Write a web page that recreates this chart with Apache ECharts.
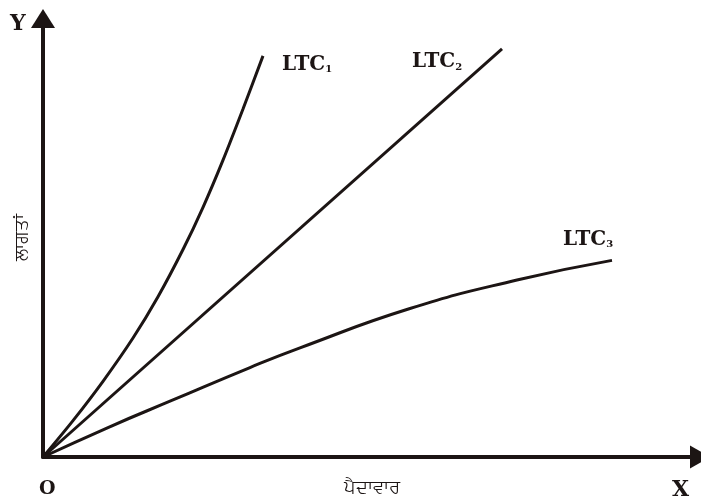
<!DOCTYPE html>
<html>
<head>
<meta charset="utf-8">
<script src="https://cdn.jsdelivr.net/npm/echarts@6/dist/echarts.min.js"></script>
<style>
html, body { margin: 0; padding: 0; background: #fff; }
#main { width: 701px; height: 502px; }
</style>
</head>
<body>
<div id="main"></div>
<script>
// curve data (x = output, y = cost)
var ltc1 = [[0, 0], [30, 37], [60, 77], [90, 121], [115, 163], [140, 211], [160, 254], [180, 302], [200, 354], [220, 408]];
var ltc2 = [[0, 0], [459, 415]];
var ltc3 = [[0, 0], [65, 30], [130, 58], [207, 91], [257, 111], [367, 151], [474, 180], [569, 200]];
var seriesNames = ['LTC1', 'LTC2', 'LTC3'];
var subs = ['1', '2', '3'];
var xName = 'ਪੈਦਾਵਾਰ';
var yName = 'ਲਾਗਤਾਂ';

var ink = '#1c1514';
var myChart = echarts.init(document.getElementById('main'));

function lbl(i, off) {
	return {
		show: true,
		distance: 0,
		offset: off,
		formatter: '{a|LTC}{s|' + subs[i] + '}',
		rich: {
			a: { fontFamily: 'DejaVu Serif', fontWeight: 'bold', fontSize: 20, lineHeight: 20, verticalAlign: 'top', color: ink },
			s: { fontFamily: 'DejaVu Serif', fontWeight: 'bold', fontSize: 10, lineHeight: 5, verticalAlign: 'bottom', color: ink }
		}
	};
}

var option = {
	animation: false,
	grid: { left: 43, right: 1, top: 18.5, bottom: 37 },
	xAxis: {
		type: 'value', min: 0, max: 657,
		name: xName, nameLocation: 'middle', nameGap: 22,
		nameTextStyle: { fontSize: 18, color: ink },
		axisLine: { symbol: ['none', 'triangle'], symbolSize: [23, 20], lineStyle: { color: ink, width: 4 } },
		axisTick: { show: false }, axisLabel: { show: false }, splitLine: { show: false }
	},
	yAxis: {
		type: 'value', min: 0, max: 446,
		name: yName, nameLocation: 'middle', nameGap: 12, nameRotate: 90,
		nameTextStyle: { fontSize: 18, color: ink },
		axisLine: { symbol: ['none', 'triangle'], symbolSize: [24, 19], lineStyle: { color: ink, width: 4 } },
		axisTick: { show: false }, axisLabel: { show: false }, splitLine: { show: false }
	},
	graphic: [
		{ type: 'text', left: 10, top: 13, style: { text: 'Y', fontFamily: 'DejaVu Serif', fontWeight: 'bold', fontSize: 22, fill: ink } },
		{ type: 'text', left: 39, top: 480, style: { text: 'O', fontFamily: 'DejaVu Serif', fontWeight: 'bold', fontSize: 19, fill: ink } },
		{ type: 'text', left: 672, top: 479, style: { text: 'X', fontFamily: 'DejaVu Serif', fontWeight: 'bold', fontSize: 22, fill: ink } }
	],
	series: [
		{ name: seriesNames[0], type: 'line', data: ltc1, smooth: 0.3, showSymbol: false,
		  lineStyle: { color: ink, width: 3 }, endLabel: lbl(0, [19, 9]) },
		{ name: seriesNames[1], type: 'line', data: ltc2, showSymbol: false,
		  lineStyle: { color: ink, width: 3 }, endLabel: lbl(1, [-90, 13]) },
		{ name: seriesNames[2], type: 'line', data: ltc3, smooth: true, showSymbol: false,
		  lineStyle: { color: ink, width: 3 }, endLabel: lbl(2, [-49, -21]) }
	]
};
myChart.setOption(option);
</script>
</body>
</html>
